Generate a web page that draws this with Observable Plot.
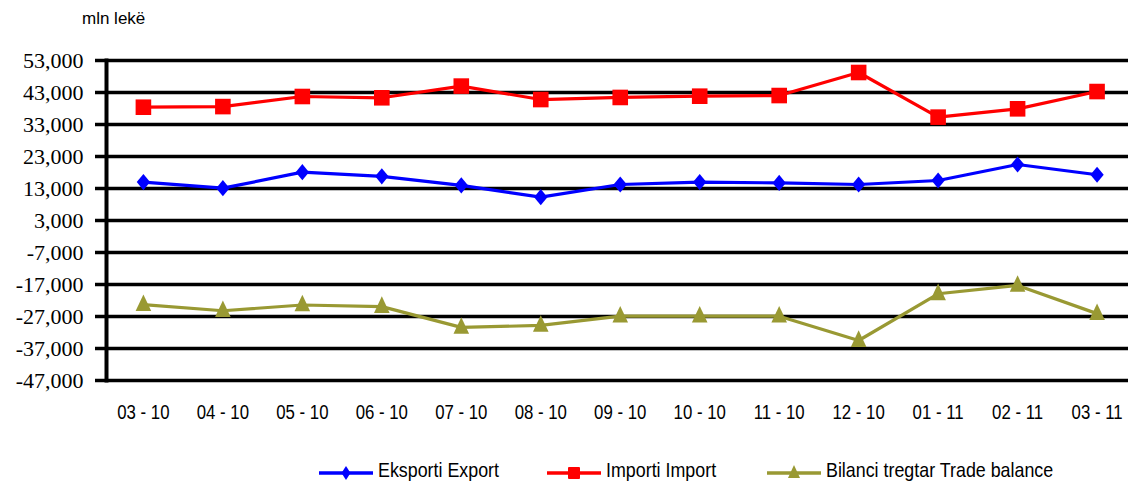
<!DOCTYPE html>
<html>
<head>
<meta charset="utf-8">
<script src="https://cdn.jsdelivr.net/npm/d3@7"></script>
<script src="https://cdn.jsdelivr.net/npm/@observablehq/plot@0.6"></script>
<style>
  body { margin: 0; background: #fff; width: 1128px; height: 483px; overflow: hidden; }
  #unit { height: 40px; position: relative; font-family: "Liberation Sans", Arial, sans-serif; font-size: 17px; }
  #unit span { position: absolute; left: 82px; top: 9px; }
  #chart { height: 400px; }
  #legend { position: relative; height: 43px; overflow: hidden; font-family: "Liberation Sans", Arial, sans-serif; font-size: 21px; }
  .item { position: absolute; top: 23px; height: 20px; }
  .item svg { position: absolute; left: 0; top: 0; }
  .item span { position: absolute; top: -4px; white-space: nowrap; display: inline-block; transform: scaleX(0.85); transform-origin: 0 50%; line-height: 22px; }
</style>
</head>
<body>
<div id="unit"><span>mln lekë</span></div>
<div id="chart"></div>
<div id="legend"></div>
<script>
const months = ["03 - 10","04 - 10","05 - 10","06 - 10","07 - 10","08 - 10","09 - 10","10 - 10","11 - 10","12 - 10","01 - 11","02 - 11","03 - 11"];
const exportVals = [15000, 13100, 18100, 16800, 14000, 10300, 14250, 15000, 14750, 14250, 15500, 20500, 17300];
const importVals = [38400, 38600, 41750, 41350, 45000, 40800, 41450, 41850, 42050, 49250, 35300, 37900, 43300];
const balanceVals = [-23300, -25200, -23400, -23900, -30400, -29800, -26900, -26900, -26900, -34500, -19900, -17300, -26100];
const yTicks = [53000, 43000, 33000, 23000, 13000, 3000, -7000, -17000, -27000, -37000, -47000];

const seriesNames = ["Eksporti Export", "Importi Import", "Bilanci tregtar Trade balance"];
const seriesColors = ["#0000ff", "#ff0000", "#999933"];

// custom marker shapes (Excel-like)
const diamondSym = {draw(ctx, size) { const s = Math.sqrt(size); const w = 0.47 * s, h = 0.57 * s;
  ctx.moveTo(0, -h); ctx.lineTo(w, 0); ctx.lineTo(0, h); ctx.lineTo(-w, 0); ctx.closePath(); }};
const squareSym = {draw(ctx, size) { const s = Math.sqrt(size); const a = 0.55 * s;
  ctx.moveTo(-a, -a); ctx.lineTo(a, -a); ctx.lineTo(a, a); ctx.lineTo(-a, a); ctx.closePath(); }};
const triangleSym = {draw(ctx, size) { const s = Math.sqrt(size); const w = 0.55 * s;
  ctx.moveTo(0, -0.72 * s); ctx.lineTo(w, 0.45 * s); ctx.lineTo(-w, 0.45 * s); ctx.closePath(); }};
const seriesSymbols = [diamondSym, squareSym, triangleSym];

const rows = [];
[exportVals, importVals, balanceVals].forEach((vals, i) => {
  vals.forEach((v, j) => rows.push({series: seriesNames[i], month: months[j], value: v}));
});

const fmt = d => d3.format(",")(d).replace("\u2212", "-");

const chart = Plot.plot({
  width: 1128,
  height: 400,
  marginTop: 20,
  marginBottom: 60,
  marginLeft: 106,
  marginRight: 0,
  x: {type: "point", domain: months, padding: 0.43, align: 0.54, round: false, label: null},
  y: {domain: [-47000, 53000], label: null},
  color: {domain: seriesNames, range: seriesColors},
  symbol: {domain: seriesNames, range: seriesSymbols},
  style: {background: "transparent"},
  marks: [
    Plot.ruleY(yTicks, {stroke: "#000", strokeWidth: 3.5}),
    Plot.axisY({ticks: yTicks, tickFormat: fmt, tickSize: 11, tickPadding: 12, strokeWidth: 3.5, label: null}),
    Plot.frame({anchor: "left", stroke: "#000", strokeWidth: 4}),
    Plot.axisX({tickSize: 0, tickPadding: 24, label: null}),
    Plot.line(rows, {x: "month", y: "value", z: "series", stroke: "series", strokeWidth: 3.2}),
    Plot.dot(rows, {x: "month", y: "value", symbol: "series", fill: "series", stroke: "none", r: 8})
  ]
});
document.getElementById("chart").appendChild(chart);

// axis label fonts, set directly on the text elements
d3.select(chart).selectAll('g[aria-label="y-axis tick label"] text')
  .style("font-family", "'Liberation Serif', 'Times New Roman', serif")
  .style("font-size", "22px");
d3.select(chart).selectAll('g[aria-label="x-axis tick label"] text')
  .style("font-family", "'Liberation Sans', Arial, sans-serif")
  .style("font-size", "21px")
  .attr("transform", function() { return (this.getAttribute("transform") || "") + " scale(0.8,1)"; });

// legend
const legendX = [319, 547, 767];
const legend = document.getElementById("legend");
const legendSyms = [
  `<path d="M27,3 L31.5,10 L27,17 L22.5,10 Z" fill="${seriesColors[0]}"/>`,
  `<rect x="21" y="4" width="12" height="12" rx="1" fill="${seriesColors[1]}"/>`,
  `<path d="M27,2 L33,15 L21,15 Z" fill="${seriesColors[2]}"/>`
];
seriesNames.forEach((name, i) => {
  const div = document.createElement("div");
  div.className = "item";
  div.style.left = legendX[i] + "px";
  div.innerHTML = `<svg width="54" height="20"><line x1="0" y1="10" x2="54" y2="10" stroke="${seriesColors[i]}" stroke-width="3.5"/>${legendSyms[i]}</svg><span style="left:59px">${name}</span>`;
  legend.appendChild(div);
});
</script>
</body>
</html>
